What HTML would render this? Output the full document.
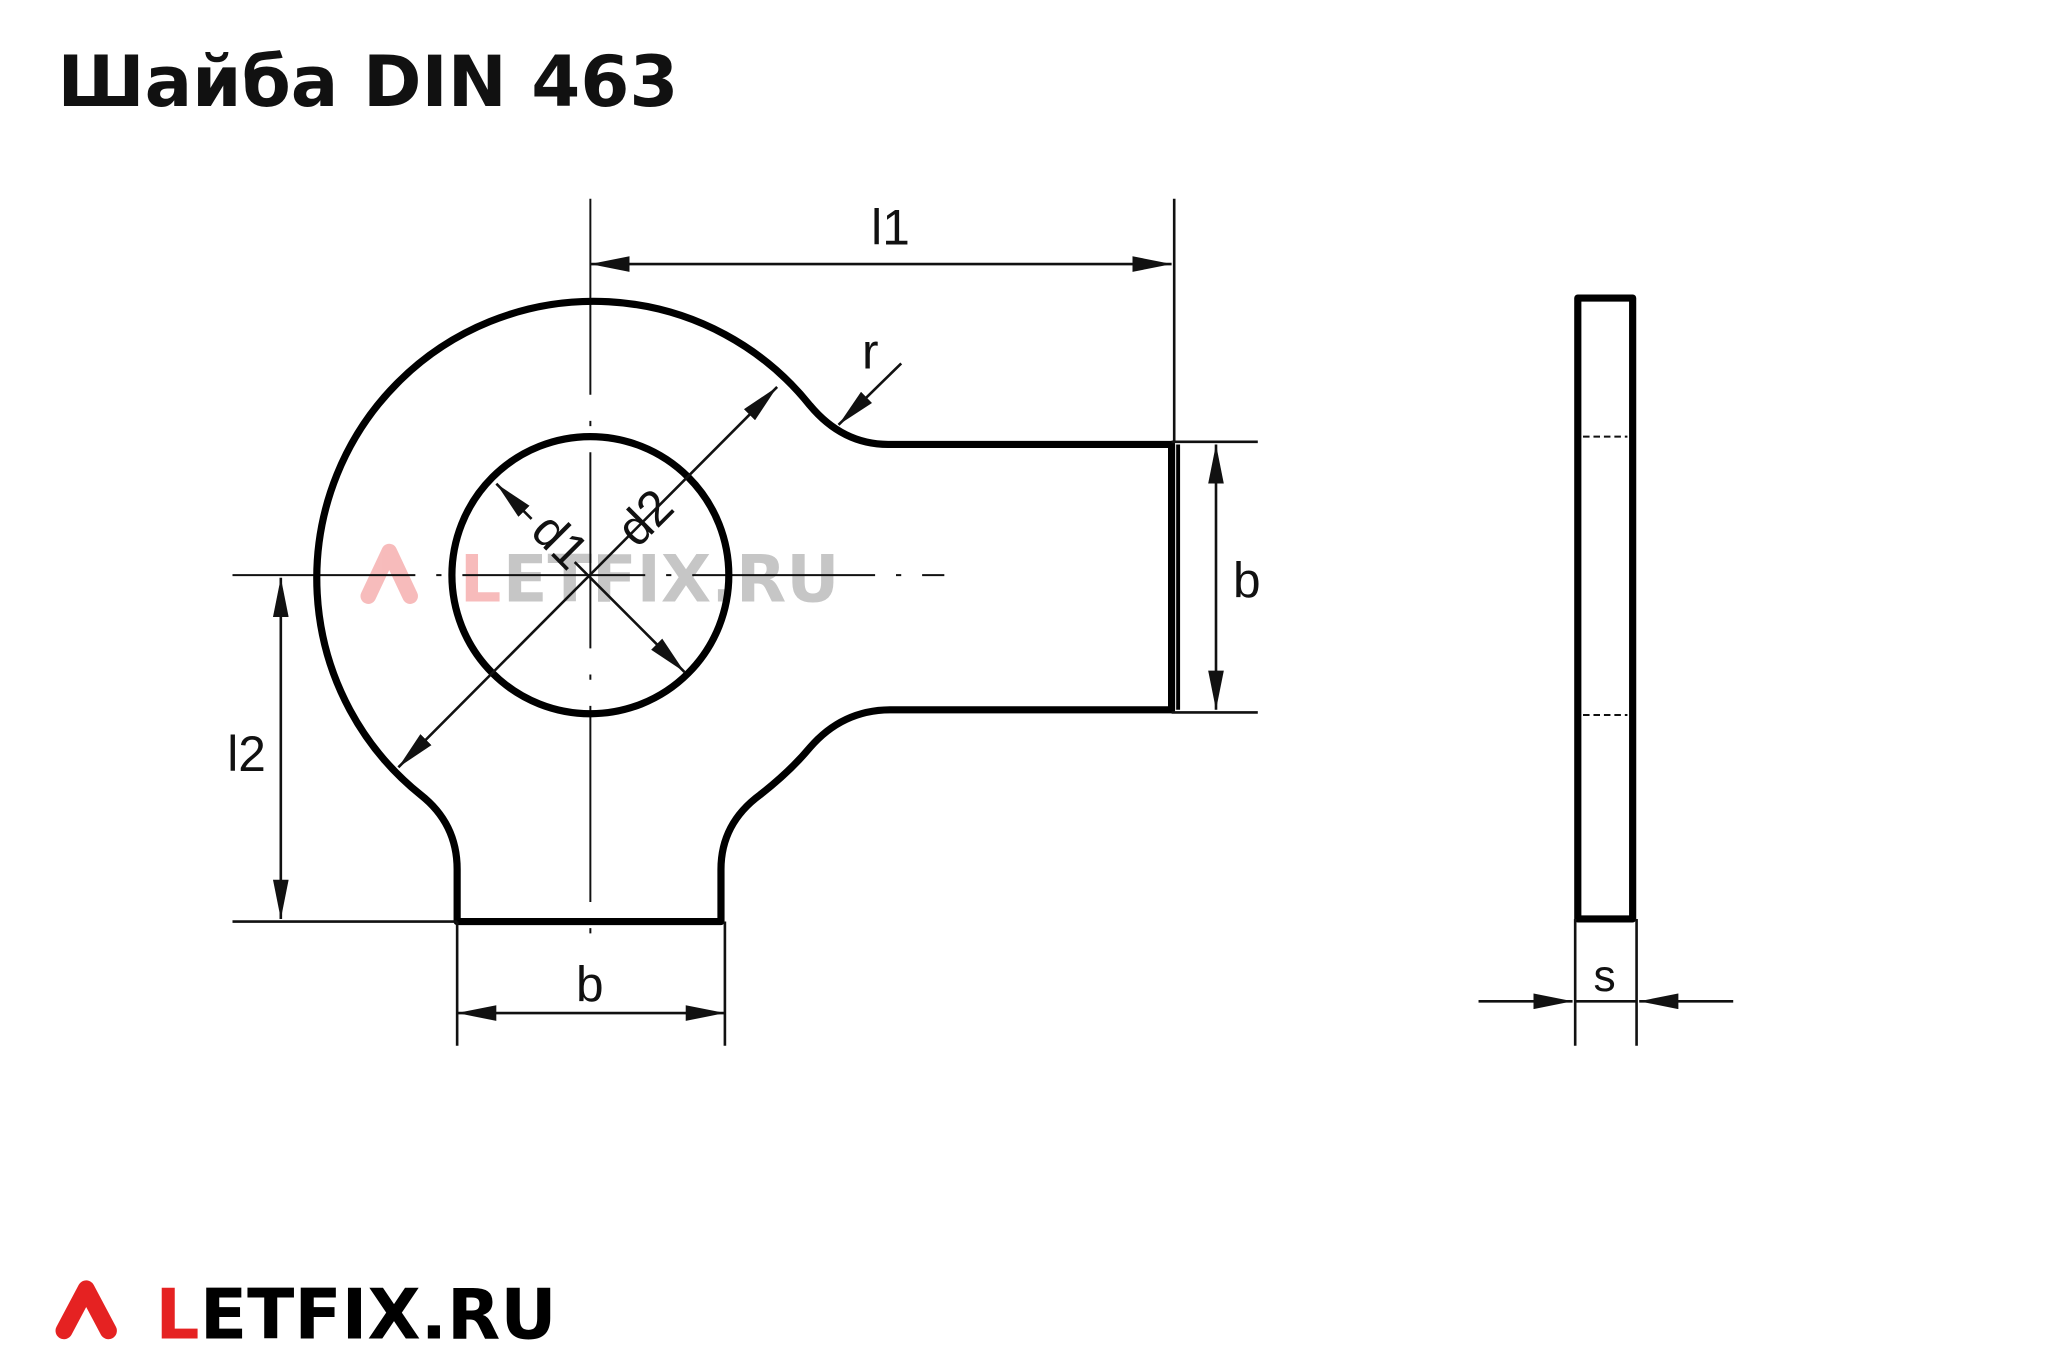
<!DOCTYPE html>
<html><head><meta charset="utf-8"><style>
html,body{margin:0;padding:0;background:#fff;width:2048px;height:1366px;overflow:hidden}
svg{display:block}
</style></head><body>
<svg width="2048" height="1366" viewBox="0 0 1568 1045" preserveAspectRatio="none" xmlns="http://www.w3.org/2000/svg" font-family="'Liberation Sans','DejaVu Sans',sans-serif">
<defs>
<marker id="a" viewBox="0 0 30 12" refX="30" refY="6" markerWidth="30" markerHeight="12" markerUnits="userSpaceOnUse" orient="auto-start-reverse">
<path d="M0,0 L30,6 L0,12 Z" fill="#111"/></marker>
</defs>
<text x="44" y="81" style="font-family:'DejaVu Sans','Liberation Sans',sans-serif;font-size:54px;font-weight:bold" fill="#111">Шайба DIN 463</text>

<!-- watermark -->
<g opacity="0.3" style="font-family:'DejaVu Sans','Liberation Sans',sans-serif;font-weight:bold">
<path d="M282,456 L298,422 L314,456" stroke="#e52222" stroke-width="12" fill="none" stroke-linecap="round" stroke-linejoin="round"/>
<text x="352" y="460" style="font-size:50px" fill="#e52222">L</text>
<text x="385" y="460" style="font-size:50px" fill="#444">ETFIX.RU</text>
</g>

<!-- center lines -->
<g stroke="#111" stroke-width="1.5" fill="none">
<line x1="452" y1="152" x2="452" y2="715" stroke-dasharray="150,20,4,20"/>
<line x1="178" y1="440" x2="723" y2="440" stroke-dasharray="140,16,4,16"/>
</g>

<!-- outline -->
<g stroke="#000" stroke-width="5.5" fill="none" stroke-linejoin="round">
<path d="M620,310 Q645,340 680,340 L897,340 L897,543 L682,543 Q645,543 620,572 Q605,590 582,608 Q552,630 552,665 L552,705 L350,705 L350,665 Q350,630 322,608 A212,212 0 1 1 620,310 Z"/>
<circle cx="452" cy="440" r="106"/>
<rect x="1208" y="228" width="42" height="475"/>
</g>
<line x1="902" y1="340" x2="902" y2="543" stroke="#000" stroke-width="3"/>

<!-- dimension lines -->
<g stroke="#111" stroke-width="2" fill="none">
<line x1="899" y1="152" x2="899" y2="338"/>
<line x1="897" y1="338" x2="963" y2="338"/>
<line x1="897" y1="545" x2="963" y2="545"/>
<line x1="178" y1="705" x2="350" y2="705"/>
<line x1="350" y1="705" x2="350" y2="800"/>
<line x1="555" y1="705" x2="555" y2="800"/>
<line x1="1206" y1="703" x2="1206" y2="800"/>
<line x1="1253" y1="703" x2="1253" y2="800"/>
<line x1="1206" y1="766" x2="1253" y2="766"/>
<line x1="452" y1="202" x2="897" y2="202" marker-start="url(#a)" marker-end="url(#a)"/>
<line x1="931" y1="340" x2="931" y2="543" marker-start="url(#a)" marker-end="url(#a)"/>
<line x1="215" y1="442" x2="215" y2="703" marker-start="url(#a)" marker-end="url(#a)"/>
<line x1="350" y1="775" x2="555" y2="775" marker-start="url(#a)" marker-end="url(#a)"/>
<line x1="305" y1="587" x2="595" y2="296" marker-start="url(#a)" marker-end="url(#a)"/>
<line x1="380" y1="370" x2="407" y2="397" marker-start="url(#a)"/>
<line x1="440" y1="430" x2="524" y2="514" marker-end="url(#a)"/>
<line x1="690" y1="278" x2="642" y2="325" marker-end="url(#a)"/>
<line x1="1132" y1="766" x2="1204" y2="766" marker-end="url(#a)"/>
<line x1="1327" y1="766" x2="1255" y2="766" marker-end="url(#a)"/>
<line x1="1212" y1="334" x2="1246" y2="334" stroke-dasharray="5,3" stroke-width="1.5"/>
<line x1="1212" y1="547" x2="1246" y2="547" stroke-dasharray="5,3" stroke-width="1.5"/>
</g>

<!-- labels -->
<g font-size="38" fill="#111">
<text x="667" y="187">l1</text>
<text x="944" y="457">b</text>
<text x="174" y="590">l2</text>
<text x="441" y="766">b</text>
<text x="660" y="282">r</text>
<text x="1220" y="758" font-size="34">s</text>
<text transform="translate(405,408) rotate(45)">d1</text>
<text transform="translate(488,420) rotate(-45)">d2</text>
</g>

<!-- logo -->
<path d="M49,1018 L66,986 L83,1018" stroke="#e52222" stroke-width="13" fill="none" stroke-linecap="round" stroke-linejoin="round"/>
<g style="font-family:'DejaVu Sans','Liberation Sans',sans-serif;font-weight:bold;font-size:53px">
<text x="119" y="1024" fill="#e52222">L</text>
<text x="153" y="1024" fill="#000">ETFIX.RU</text>
</g>
</svg>
</body></html>
